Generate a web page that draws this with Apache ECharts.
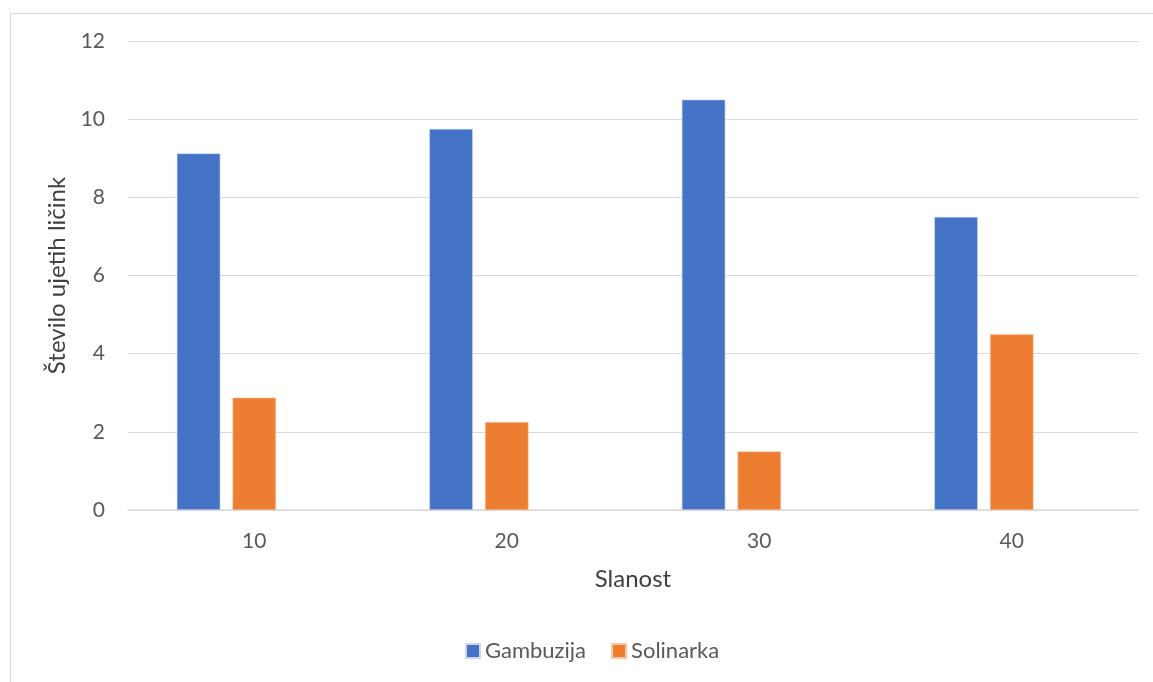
<!DOCTYPE html>
<html>
<head>
<meta charset="utf-8">
<script src="https://cdn.jsdelivr.net/npm/echarts@6/dist/echarts.min.js"></script>
<style>
html,body{margin:0;padding:0;background:#fff;}
#c{width:1153px;height:682px;}
</style>
</head>
<body>
<div id="c"></div>
<script>
const categories = ['10', '20', '30', '40'];
const gambuzija = [9.125, 9.75, 10.5, 7.5];
const solinarka = [2.875, 2.25, 1.5, 4.5];
const emptySlot = [null, null, null, null];
const yTicks = { min: 0, max: 12, interval: 2 };

const FONT = 'Lato, "Open Sans", sans-serif';
const chart = echarts.init(document.getElementById('c'), null, { renderer: 'canvas' });
chart.setOption({
  animation: false,
  backgroundColor: '#fff',
  graphic: [{
    type: 'rect', left: 8, top: 11, shape: { width: 1170, height: 700 },
    style: { fill: 'none', stroke: '#d9d9d9', lineWidth: 1.2 }, silent: true, z: -1
  }],
  grid: { left: 128, right: 15, top: 41, bottom: 172, containLabel: false },
  legend: {
    data: ['Gambuzija', 'Solinarka'],
    left: 465, top: 640, padding: 0,
    itemWidth: 14, itemHeight: 14, itemGap: 25,
    icon: 'rect',
    textStyle: { fontFamily: FONT, fontSize: 22, color: '#595959' }
  },
  xAxis: {
    type: 'category',
    data: categories,
    name: 'Slanost',
    nameLocation: 'middle',
    nameGap: 57,
    nameTextStyle: { fontFamily: FONT, fontSize: 24, color: '#404040' },
    axisLine: { show: true, lineStyle: { color: '#d9d9d9', width: 1.5 } },
    axisTick: { show: false },
    axisLabel: { margin: 21, fontFamily: FONT, fontSize: 21, color: '#595959' }
  },
  yAxis: {
    type: 'value',
    min: yTicks.min, max: yTicks.max, interval: yTicks.interval,
    name: 'Število ujetih ličink',
    nameLocation: 'middle',
    nameGap: 58,
    nameTextStyle: { fontFamily: FONT, fontSize: 24, color: '#404040' },
    axisLine: { show: false },
    axisTick: { show: false },
    axisLabel: { margin: 23, fontFamily: FONT, fontSize: 21, color: '#595959' },
    splitLine: { lineStyle: { color: '#d9d9d9', width: 1.2 } }
  },
  series: [
    { name: 'Gambuzija', type: 'bar', data: gambuzija, barWidth: 43.5, barGap: '28%',
      itemStyle: { color: '#4472C4', borderColor: '#c9d6ee', borderWidth: 0.6 } },
    { name: 'Solinarka', type: 'bar', data: solinarka, barWidth: 43.5, barGap: '28%',
      itemStyle: { color: '#ED7D31', borderColor: '#f8c8a6', borderWidth: 0.6 } },
    { name: 'Prazno', type: 'bar', data: emptySlot, barWidth: 43.5, barGap: '28%',
      itemStyle: { color: '#A5A5A5' } }
  ]
});
</script>
</body>
</html>
